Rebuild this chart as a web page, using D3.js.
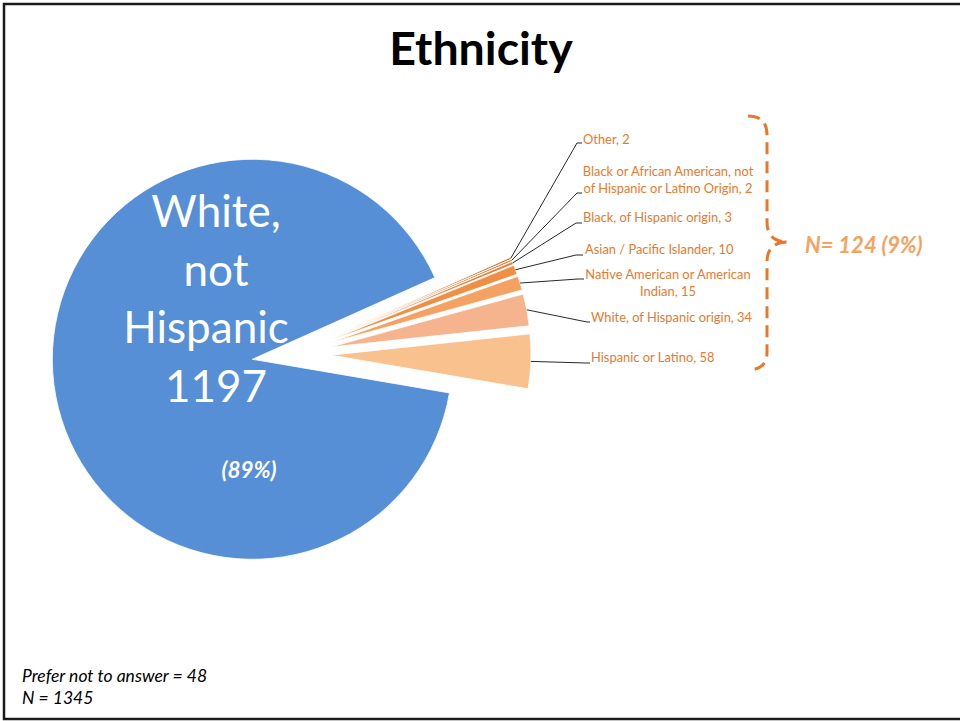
<!DOCTYPE html>
<html>
<head>
<meta charset="utf-8">
<script src="https://cdn.jsdelivr.net/npm/d3@7"></script>
<style>
  html, body { margin: 0; padding: 0; background: #fff; }
  svg { display: block; font-family: Lato, "Open Sans", sans-serif; }
</style>
</head>
<body>
<svg id="chart" width="960" height="721"></svg>
<script>
// ethnicity pie — small groups pulled out to the right, labelled with leader lines
const categories = [
    'Other',
    'Black or African American, not of Hispanic or Latino Origin',
    'Black, of Hispanic origin',
    'Asian / Pacific Islander',
    'Native American or American Indian',
    'White, of Hispanic origin',
    'Hispanic or Latino',
    'White, not Hispanic'
];
const counts = [2, 2, 3, 10, 15, 34, 58, 1197];
const labelLines = [
    ['Other, 2'],
    ['Black or African American, not', 'of Hispanic or Latino Origin, 2'],
    ['Black, of Hispanic origin, 3'],
    ['Asian / Pacific Islander, 10'],
    ['Native American or American', 'Indian, 15'],
    ['White, of Hispanic origin, 34'],
    ['Hispanic or Latino, 58']
];
const mainLines = ['White,', 'not', 'Hispanic', '1197'];
const mainPct = '(89%)';
const groupNote = 'N= 124 (9%)';
const footNotes = ['Prefer not to answer = 48', 'N = 1345'];

// styles / layout
const COLORS = ['#C86B2A', '#D67530', '#E3813A', '#EE8F45', '#F3A264', '#F6B48E', '#F9C18E', '#568FD5'];
const ORANGE = '#E97A2D';
const CX = 294, CY = 354, R = 200;
const EXPLODE_SMALL = 37, EXPLODE_MAIN = 42;
const START = 65.9 * Math.PI / 180;

// label layout: leader corner, text x, baseline of first line, anchor
const LABEL_POS = [
    { kx: 577, ky: 143, hx: 582, x: 583, y: 144, anchor: 'start' },
    { kx: 577, ky: 193, hx: 582, x: 668, y: 176, anchor: 'middle' },
    { kx: 576, ky: 223, hx: 582, x: 583, y: 222, anchor: 'start' },
    { kx: 576, ky: 255, hx: 583, x: 585, y: 254, anchor: 'start' },
    { kx: 578, ky: 279, hx: 584, x: 668, y: 279, anchor: 'middle' },
    { kx: 587, ky: 322, hx: 590, x: 591, y: 322, anchor: 'start' },
    { kx: 586, ky: 363, hx: 590, x: 591, y: 362, anchor: 'start' }
];

const svg = d3.select('#chart');

// slide frame
svg.append('rect')
    .attr('x', 4).attr('y', 4)
    .attr('width', 970).attr('height', 715)
    .attr('fill', 'none')
    .attr('stroke', '#1a1a1a')
    .attr('stroke-width', 2.5);

svg.append('text')
    .attr('x', 481).attr('y', 65)
    .attr('text-anchor', 'middle')
    .attr('font-size', 46.5)
    .attr('font-weight', 700)
    .attr('fill', '#000')
    .text('Ethnicity');

const pie = d3.pie().sort(null).value(d => d)
    .startAngle(START).endAngle(START + 2 * Math.PI);
const arcs = pie(counts);
const arc = d3.arc().innerRadius(0).outerRadius(R);

const nSmall = counts.length - 1;
const offset = (d, i) => {
    const mid = (d.startAngle + d.endAngle) / 2;
    const e = i < nSmall ? EXPLODE_SMALL : EXPLODE_MAIN;
    return [e * Math.sin(mid), -e * Math.cos(mid)];
};

const g = svg.append('g').attr('transform', `translate(${CX},${CY})`);

g.selectAll('path.slice')
    .data(arcs)
    .join('path')
    .attr('class', 'slice')
    .attr('transform', (d, i) => `translate(${offset(d, i)})`)
    .attr('d', arc)
    .attr('fill', (d, i) => COLORS[i])
    .attr('stroke', '#fff')
    .attr('stroke-width', 0.8)
    .attr('stroke-linejoin', 'round');

// leader lines from outer arc midpoint
const edgeArc = d3.arc().innerRadius(R).outerRadius(R);
arcs.slice(0, nSmall).forEach((d, i) => {
    const [ox, oy] = offset(d, i);
    const [ax, ay] = edgeArc.centroid(d);
    const p = LABEL_POS[i];
    const pts = [[CX + ox + ax, CY + oy + ay], [p.kx, p.ky], [p.hx, p.ky]];
    svg.append('path')
        .attr('d', d3.line()(pts))
        .attr('fill', 'none')
        .attr('stroke', '#111')
        .attr('stroke-width', 0.9);

    const t = svg.append('text')
        .attr('x', p.x).attr('y', p.y)
        .attr('text-anchor', p.anchor)
        .attr('font-size', 12.9)
        .attr('fill', ORANGE);
    labelLines[i].forEach((line, j) => {
        t.append('tspan')
            .attr('x', p.x)
            .attr('dy', j === 0 ? 0 : 17)
            .text(line);
    });
});

// big slice text
const mainText = svg.append('text')
    .attr('text-anchor', 'middle')
    .attr('font-size', 44)
    .attr('fill', '#fff');
const mainX = [216, 216, 206, 216];
const mainY = [227, 286, 343, 402];
mainLines.forEach((line, j) => {
    mainText.append('tspan').attr('x', mainX[j]).attr('y', mainY[j]).text(line);
});
svg.append('text')
    .attr('x', 249).attr('y', 478)
    .attr('text-anchor', 'middle')
    .attr('font-size', 22.5)
    .attr('font-weight', 700)
    .attr('font-style', 'italic')
    .attr('fill', '#fff')
    .text(mainPct);

// curly brace round the small groups
const brace = d3.path();
brace.moveTo(748, 116);
brace.quadraticCurveTo(767, 116, 767, 135);
brace.lineTo(767, 222);
brace.quadraticCurveTo(767, 242, 788, 242);
brace.quadraticCurveTo(767, 242, 767, 262);
brace.lineTo(767, 352);
brace.quadraticCurveTo(767, 370, 748, 370);
svg.append('path')
    .attr('d', brace.toString())
    .attr('fill', 'none')
    .attr('stroke', '#E9782C')
    .attr('stroke-width', 3)
    .attr('stroke-dasharray', '12,7');

svg.append('text')
    .attr('x', 805).attr('y', 253)
    .attr('font-size', 22)
    .attr('font-weight', 700)
    .attr('font-style', 'italic')
    .attr('fill', '#F4A25E')
    .text(groupNote);

footNotes.forEach((s, j) => {
    svg.append('text')
        .attr('x', 22).attr('y', 682 + j * 22)
        .attr('font-size', 17.5)
        .attr('font-style', 'italic')
        .attr('fill', '#000')
        .text(s);
});
</script>
</body>
</html>
